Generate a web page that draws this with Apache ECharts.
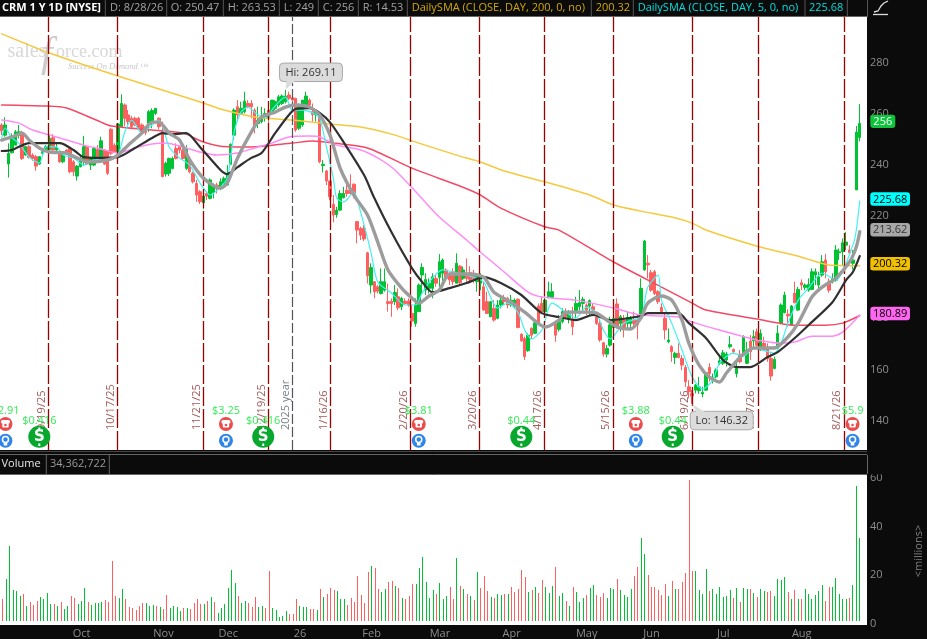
<!DOCTYPE html>
<html><head><meta charset="utf-8">
<style>html,body{margin:0;padding:0;background:#0b0b0b;overflow:hidden}#c{width:927px;height:639px}</style>
<script src="https://cdn.jsdelivr.net/npm/echarts@6/dist/echarts.min.js"></script>
</head><body><div id="c"></div>
<script>
// [open, close, low, high]
const candleRows=[
[255.4,253.1,251.4,256],[251.4,255.4,250.8,258.4],[240.1,244.3,234.8,248.2],[244.5,250.1,244.3,252.1],[247.5,252.7,247.5,253.4],[251.4,252.7,250.1,255.4],[252.4,242.3,241.7,253.1],[243.6,246.9,243.4,247.2],[246.9,242.7,242.3,247.5],[243.6,242.3,241.4,244.3],
[243,239.3,237.5,243.6],[240.1,243,239.7,243.2],[244.3,244.9,243.6,245.8],[245.6,246.9,244.9,247.5],[245.8,250.1,245.3,251.4],[250.4,245.6,245.3,251.8],[245.6,246.6,244.9,248.2],[244.3,241,240.6,244.9],[241,243.6,240.4,244.3],[245.6,244.3,243.6,245.8],
[246.2,237.1,236.5,246.6],[241,237.1,235.4,241.7],[235.4,239.3,233.6,239.7],[239.1,242.3,238.8,243],[241.4,246.9,239.7,251.1],[246.6,240.1,239.7,247.2],[239.7,242.3,237.8,243],[239.7,246.2,239.3,246.9],[245.8,242.3,241.4,247.5],[241,249.2,240.6,250.8],
[245.6,240.1,239.7,245.8],[245.3,236.5,235.8,245.6],[253.7,244.3,243.6,254.1],[247.5,244.9,244.5,248.2],[244.9,255.8,244.3,256],[254.7,263.8,254.7,267.4],[263.2,258,255,263.8],[259.3,256.7,255.4,261.2],[258,254.7,254.4,258.9],[258,255.4,255,258.6],
[258,254.4,254.1,258.6],[255.4,252.7,252.1,256],[254.7,252.4,251.4,255],[256,260.6,252.7,261.2],[256.7,261,254.1,261.9],[259.9,261.9,259.3,261.9],[258,254.7,253.7,258.4],[252.8,235.2,234.9,256.7],[236.2,240.4,235.2,241],[236.5,242.3,235.4,242.6],
[238.4,242.3,238,243],[246.2,242.3,241.9,248.2],[246.9,245.6,244.3,247.5],[245.6,242.3,241.7,246.2],[238.4,245.8,237.8,247.5],[242.3,237.1,236.5,243],[236.5,233.2,232.5,237.1],[232.5,228,225.4,233.9],[229.3,225.4,224.5,229.9],[225,227.6,222.4,228],
[228.6,227.6,226,229.3],[226.7,233.9,226.3,234.5],[228.9,231.2,226.7,232.5],[231.9,230.6,228.6,232.8],[230.6,233.2,229.9,234.5],[232.5,234.5,230.6,235.2],[231.9,235.8,231.9,239.7],[240,247.8,239.7,248.2],[251.4,261.2,249.5,261.9],[262.5,259.3,256.7,265.1],
[259.9,261.9,259.9,264.5],[260.6,264.7,259.9,268.4],[263.8,262.5,261.9,265.1],[263.8,262.5,258,265.1],[261.2,254.7,252.1,261.9],[256,257.3,254.1,262.5],[256.7,258,256,262.5],[258,259.9,256.7,261.9],[261.2,258,256,263.2],[260.6,265.1,259.9,265.1],
[261.9,264.5,261.2,265.1],[263.2,266.4,262.5,267.1],[263.8,266.7,263.2,267.3],[264.5,266.7,263.8,269.11],[267.1,265.8,265.1,268.4],[266,265.1,263.8,266.4],[265.8,253.4,252.7,266],[254.1,263.2,253.4,263.8],[255.4,265.1,254.7,265.1],[263.2,266.7,261.9,268.4],
[265.1,263.2,261.9,265.8],[260.6,259.5,256.7,263.8],[259.3,260.3,256.7,261.2],[259.3,241,240.4,259.9],[239.5,240,236.8,241.7],[237.4,233.5,231.9,237.8],[233.5,227.3,226,233.5],[224.3,220.2,217.3,228],[220.4,222.1,219.1,223.4],[222.1,228.6,221.7,229.9],
[226.9,228.6,226.7,231.2],[229.9,228.6,227.3,233.8],[229.9,228.6,228,236.1],[232.2,228,226.7,232.5],[217.6,214.3,209.1,217.8],[214.9,212.3,210.4,215.6],[214.9,210.8,210,216.2],[205.4,196.4,193.4,205.8],[192.8,199.6,189.5,201.3],[194.1,190.2,187.6,194.3],
[192.1,190.4,189.5,192.8],[189.5,194.1,189.1,199.3],[190.8,194.1,190.2,199.3],[186.3,185.6,182.4,193.4],[186.5,185.6,180.4,187.6],[186.3,189.9,185,192.8],[188.2,183.9,183,191.5],[184.3,187.6,183,188.2],[186.5,185.6,185,187.6],[186.5,185,184.3,187.6],
[181.7,178.7,176.5,185],[177.8,185,176.5,187.6],[182.4,192.8,182.4,193.4],[196.7,199.7,189.5,201.3],[190.8,195,188.9,197.4],[191.5,193.5,189.5,195.4],[191.5,196,187.6,197.4],[195.4,193.5,192.1,196.7],[195.8,201.9,192.1,204.9],[197.4,202.6,194.1,203.2],
[198.7,195.4,194.8,199.3],[196.7,194.8,192.8,198],[198,194.1,192.8,199.3],[193.5,201.3,193.5,205.2],[200.2,193.7,192.8,200.6],[195.4,198.7,194.8,200],[197.4,195.4,194.1,203.2],[197.6,195,194.1,200.2],[197.4,195.4,193.5,198.7],[194.1,196.7,190.2,197.4],
[193.5,196,190.8,197.4],[192.1,183,182.8,194.1],[186.3,181.7,181.5,190.2],[180.4,186.3,180.2,186.3],[183.7,179.1,178.5,186.9],[179.8,185,179.4,186.9],[185,186.9,183.7,188.9],[187.6,186.3,185,188.9],[187.6,185,183.7,188.2],[185,186.9,184.3,188.9],
[184.3,186.9,183.7,187.6],[187.2,176.2,175.9,187.6],[173.6,171,170.6,173.9],[171.9,164.8,163.5,172.6],[167.1,173.2,166.7,173.9],[175.9,173.2,171.6,176.2],[173.9,178,173.6,179.1],[184.6,177.8,177.2,185.6],[185.6,182.4,182,188.5],[182.4,186.9,182,189.5],
[188.2,190.2,187.6,194.1],[188,190.2,187.6,193.5],[177.8,173.2,170.6,178.5],[175.5,178.5,174.6,181.1],[178.5,182.4,177.8,183.7],[181.7,180.4,179.8,183.7],[179.8,181.5,177.8,183],[179.1,176.5,173.2,184.3],[182.4,185.6,179.8,188.2],[184.3,185.9,182.8,190.8],
[185.6,187.2,182.4,188.2],[185,183,181.1,185.6],[184.6,186.7,181.1,187.2],[184.3,183,181.1,185.6],[180.2,177.8,177.2,181.1],[177.8,171.3,170.6,179.1],[170.2,165.8,164.8,170.6],[165.8,168,164.5,169.3],[169.3,177.2,168.7,180.4],[176.2,179.8,175.5,181.1],
[185.4,176.5,175.9,187.6],[177.8,180.4,174.6,181.1],[179.1,176.2,172.3,181.1],[177.8,180.2,175.5,182.4],[177.8,179.8,175.5,180.7],[179.1,177.8,176.2,182.4],[179.1,177.2,171.6,181.1],[181,191.5,180.4,195.4],[198.7,210,198.4,210.4],[201.3,200.7,195.4,204.5],
[197.6,190.8,190.2,198.7],[198,189.5,188.9,198.7],[190.2,186.3,185.4,190.8],[184.1,182.4,181.7,185.6],[179.8,175.2,171.5,181.7],[170.6,171.3,170,175.8],[168.7,166.7,162.8,169.3],[164.5,166.1,161.9,166.7],[166.1,164.5,164.1,170],[164.1,161.5,159.5,165.4],
[160.6,155,153,161.5],[153,151.1,148.5,155.6],[150.4,149.4,146.32,151.7],[151.7,153.7,150.4,154.1],[151.5,153,150.2,156.9],[150.2,150.8,148.9,153],[151.7,158.5,151.5,158.9],[160.6,158.2,155,162.2],[155.9,156.7,154.3,158.2],[156.9,159.5,156.3,160.2],
[162.2,163.2,161.5,164.8],[162.2,166.3,161.5,167.4],[163.5,165.8,160.9,166.7],[168.7,169.5,168,172.8],[167.6,166.7,165.8,168],[158.2,160.2,156.7,163.5],[165.8,162.8,162.2,167.4],[166.3,172.6,165.8,173.2],[162.2,167.4,161.9,170.6],[170.9,166.7,163.5,173.2],
[171,172.6,168,175.2],[174.5,169.3,168.7,175.8],[167.4,173.9,167.1,175.5],[170,167.4,167.1,172.6],[168,164.1,162.8,170],[164.1,157.2,155.4,166.1],[160.2,163.7,159.8,164.8],[168,173.9,167.6,177.1],[177.8,185,177.5,185.6],[182,188.9,181.7,190.2],
[181.4,180.7,176.5,183.3],[177.1,184.6,176.8,185],[189.5,185.9,185.6,194.1],[183,191.1,182.8,192.1],[193.7,192.8,190.8,195],[191.9,192.8,190.8,193.4],[190.8,193,190.2,195.4],[191.1,198,190.8,199.3],[196.7,198,192.8,199.3],[192.8,196,191.5,198],
[196.7,201.9,196,204.5],[202.6,198,195.4,204.9],[194.1,190.8,189.8,195.4],[194.1,195.4,193.4,197.4],[194.7,206.5,194.1,208.4],[205.4,205.8,202.6,207.1],[205.8,209.3,200.6,211],[208.4,209.6,206.5,213.6],[206.5,205.4,204.5,208.4],[201.3,202.6,198.9,206.5],
[230,252.6,230,255],[250.47,256,249,263.53]
];
const volumes=[
9,17.3,30.9,12.7,12.5,10.4,11.2,6.4,8,6.8,
8.4,10,9.2,11.6,7.2,7.2,6.4,8,4.8,6,
10.4,9.6,7.2,8.4,13.7,8,6.8,7.6,7.6,8,
8.8,8,24.9,10.4,9.6,13.3,9.2,5.6,5.2,4.4,
6,7.6,7.6,6.4,6.8,6.4,5.6,4.8,10.8,5.2,
6,5.6,4,5.2,5.2,4.8,7.6,9.2,7.2,7.2,
8.4,10,8,3.2,5.2,7.2,13.7,20.9,15.7,10.4,
7.6,8.4,7.6,5.6,10,5.6,6,5.2,20.5,5.2,
4.4,1.6,2,4,2.8,2.8,9.2,6,5.6,5.6,
4.8,4.8,4.4,13.3,10,11.2,13.7,12.9,12.5,9.2,
9.2,6.8,9.6,8,18.5,10.8,7.6,20.1,22.9,21.7,
13.3,12.1,13.3,16.1,16.5,14.5,13.7,9.6,9.2,10.4,
15.3,15.3,21.7,26.5,16.1,9.6,12.9,11.2,15.7,9.2,
10.4,14.1,9.2,26.1,14.5,13.3,11.2,10.4,8.8,20.1,
13.7,18.5,12.5,10,9.6,11.2,10.8,11.2,11.2,14.1,
12.1,13.3,20.9,18.1,12.1,12.9,14.1,11.6,16.9,14.1,
11.6,14.5,22.5,10.4,11.6,8.4,6.4,14.1,12.1,8,
9.6,10.8,13.7,14.9,10.8,10,11.6,9.6,13.7,13.3,
17.3,12.9,10.8,10,13.3,18.5,22.5,34.1,27.7,18.9,
14.1,14.1,12.9,10.8,15.3,10.4,16.5,13.3,13.3,16.1,
19.7,58.2,20.5,20.5,12.9,11.2,21.3,12.5,13.3,11.2,
14.1,10,10.4,12.9,9.6,13.7,8,13.7,13.3,13.3,
11.6,10,13.3,12.5,12.1,12.5,10.4,17.3,16.9,18.1,
12.1,9.2,12.9,9.2,9.2,13.3,11.2,9.2,10.8,12.5,
14.9,8.4,14.1,14.1,17.7,11.2,9.2,9.2,9.6,14.9,
55.8,34.36];
const volumeDirs="rgggggrgrr"+"rggggrgrgg"+"rrgggrgggg"+"rrrrggrrrr"+"rrgggrgrrg"+"gggrgrrrrg"+"rgrggggggr"+"ggrrrggrrg"+"ggggrrrggg"+"rrgrgrrrgg"+"grrrrrrrgr"+"rggrrgrgrr"+"rggggggrgg"+"grrgrgrgrg"+"rrrgrggrgr"+"rrrrgrgrrg"+"ggrggrgrgg"+"grggrrrggg"+"rggggrrggr"+"rrrrrgrgrr"+"rrrggggrgg"+"ggggrgrggr"+"grggrrgggg"+"rgrgrggggg"+"grrgggggrg"+"gg";

const sma200=[[0,291],[14,283.5],[34,274.5],[59,264],[64,261.6],[74,258.5],[85,257.3],[96,255.8],[105,254.6],[114,251.8],[122,248.3],[134,243.2],[140,240.9],[147,237.4],[159,233.1],[172,228],[179,224.1],[187,221.7],[196,219.4],[202,217],[206,214.3],[221,208],[234,203.7],[242,200.6],[251,200.32]];
const sma100=[[0,263.2],[13,262.8],[19,262],[29,256.5],[32,255],[44,253.4],[53,252.2],[59,248.7],[64,247.1],[73,246.8],[85,248.3],[91,249.1],[97,248.3],[107,246.4],[120,238.5],[134,231.5],[140,228],[146,222.9],[159,215.5],[163,214.3],[179,201.8],[193,192],[202,185.7],[206,183],[221,179.5],[232,177.1],[241,177.1],[246,177.9],[251,180.89]];
const sma50=[[0,257.3],[5,256.1],[9,253.4],[14,251.5],[19,249.5],[24,247.5],[29,246],[34,244.4],[39,246.4],[44,247.9],[48,248.3],[53,246.8],[58,244.8],[63,243.6],[69,244.4],[74,246.4],[79,248.3],[84,250.7],[90,251.1],[93,250.7],[98,247.5],[105,245.6],[110,242.5],[115,237.8],[122,228],[128,219.4],[136,210.4],[140,205.7],[147,197.9],[154,190],[158,188.1],[168,186.9],[179,183.8],[187,181.1],[198,180.3],[202,178.3],[210,175.2],[221,171.3],[228,170.1],[232,170.5],[237,172.8],[243,172.8],[246,174.4],[251,181]];
const sma20=[[0,245.2],[3,245.6],[8,248.3],[12,248.3],[17,248.3],[21,245.6],[24,242.8],[28,242.5],[34,242.8],[39,246.4],[44,250.3],[47,252.2],[50,251.8],[54,252.2],[58,246.8],[64,237.8],[66,236.2],[69,238.9],[73,242.5],[76,244.4],[80,252.2],[84,259.3],[86,261.6],[90,262],[93,260.1],[96,256.5],[100,248.7],[106,235.8],[109,226.8],[114,213.5],[120,199.4],[123,194],[126,190],[131,191.6],[136,193.6],[141,195.9],[146,193.6],[152,188.9],[158,181.8],[163,180.3],[168,179.1],[173,181.1],[178,179.1],[187,180.7],[189,181.8],[198,181.8],[201,177.9],[206,172.1],[211,163.5],[215,160.7],[219,160.7],[224,164.6],[227,166.6],[232,172.1],[236,177.1],[243,186.1],[247,194.7],[249,197.9],[251,204.1]];
const sma10=[[0,249.5],[3,250.7],[6,252.2],[8,249.5],[11,246.4],[14,244.8],[19,244.4],[22,242.5],[25,240.9],[31,241.7],[34,243.6],[37,247.5],[41,252.2],[44,256.5],[46,256.5],[49,252.2],[52,249.5],[55,241.7],[59,234.6],[64,230.7],[66,232.7],[69,242.5],[73,252.6],[76,258.5],[80,260.4],[83,262.4],[86,263.2],[90,262.4],[93,259.3],[96,251.5],[99,238.5],[103,228],[107,220.2],[110,209.6],[113,198.7],[117,191.6],[120,187.7],[122,185.7],[125,188.5],[128,190.8],[131,197.1],[137,197.1],[141,195.9],[144,190],[149,186.1],[153,182.2],[159,176.4],[163,179.1],[165,182.2],[171,182.2],[174,181.8],[180,176.4],[184,175.6],[187,179.9],[189,185.7],[193,188.5],[196,186.9],[199,179.1],[201,170.1],[204,161.5],[207,156.8],[210,154.9],[212,158.4],[216,164.6],[220,168.2],[226,168.2],[230,172.5],[233,177.9],[237,188.1],[240,192],[244,195.5],[248,201.8],[250,207.7],[251,213.62]];
const sma5=[[0,250.3],[1,254.2],[3,250.3],[5,248.3],[8,242.8],[11,240.5],[13,246.8],[16,246.8],[18,243.6],[21,242.5],[24,239.7],[27,241.7],[31,241.7],[34,243.6],[36,252.6],[38,257.3],[41,252.2],[43,254.2],[46,257.3],[49,246.8],[52,242.5],[55,239.7],[58,232.7],[61,228],[64,231.1],[66,234.6],[67,242.5],[68,252.6],[70,260.4],[72,262.4],[75,259.3],[78,258.1],[79,261.2],[83,266.3],[85,261.2],[88,261.2],[91,260.1],[93,258.1],[95,246.8],[97,234.6],[98,226.8],[100,225.2],[103,229.2],[105,221.3],[108,205.7],[110,194],[114,189.7],[118,185],[121,185],[123,189.7],[126,195.5],[129,198.7],[132,197.9],[137,196.3],[141,194],[143,188.1],[145,183.8],[148,185.7],[151,182.2],[153,175.2],[155,171.7],[158,175.2],[160,183.8],[161,185.7],[165,182.2],[168,179.9],[171,184.2],[174,181.8],[176,175.2],[178,171.7],[182,177.9],[187,180.3],[188,185.7],[189,192],[192,196.7],[193,186.9],[196,177.9],[199,167.4],[202,156.8],[205,152.1],[208,155.6],[210,162.3],[214,166.2],[217,165],[220,168.2],[226,166.2],[228,170.1],[230,177.9],[233,186.9],[236,191.6],[240,197.5],[244,194.7],[249,208.4],[250,214.3],[251,225.68]];

const priceTicks=[140,160,180,200,220,240,260,280];
const volumeTicks=[0,20,40,60];
const monthNames=['Oct','Nov','Dec','26','Feb','Mar','Apr','May','Jun','Jul','Aug'];
const monthBars=[23,47,66,87,108,128,149,171,190,211,234];
const eventBars=[13.7,33.9,59.1,78.1,96.2,119.6,139.8,158.8,178.9,202,221.3,246.5];
const eventDates=['9/19/25','10/17/25','11/21/25','12/19/25','1/16/26','2/20/26','3/20/26','4/17/26','5/15/26','6/19/26','7/17/26','8/21/26'];
const yearBar=85.1, yearText='2025 year';
const earningsBars=[1.1,65.6,122,185.5,248.9];
const earningsTexts=['$2.91','$3.25','$3.81','$3.88','$5.9'];
const dividendBars=[11,76.5,152,196.3];
const dividendTexts=['$0.416','$0.416','$0.44','$0.44'];
const callouts=[[83,269.11,'Hi: 269.11'],[202,146.32,'Lo: 146.32']];
const priceTags=[[256,'256'],[225.68,'225.68'],[213.62,'213.62'],[200.32,'200.32'],[180.89,'180.89']];
const headerTexts=['CRM 1 Y 1D [NYSE]','D: 8/28/26','O: 250.47','H: 263.53','L: 249','C: 256','R: 14.53','DailySMA (CLOSE, DAY, 200, 0, no)','200.32','DailySMA (CLOSE, DAY, 5, 0, no)','225.68'];

const FONT='"Open Sans"';
const UP='#00c232',DOWN='#ff5f5f';
const slot=3.42, SLOTS=254, gridLeft=-0.4, gridW=SLOTS*slot;
const categories=Array.from({length:SLOTS},(_,i)=>{const k=monthBars.indexOf(i);return k>=0?monthNames[k]:'';});

const hdrX=[2,110,170.7,227.7,283.7,322.7,362.7,411.7,595.7,637.7,809];
const hdrC=['#fff','#a3a3a3','#a3a3a3','#a3a3a3','#a3a3a3','#a3a3a3','#a3a3a3','#d2a800','#d2a800','#00dede','#00dede'];
const hdrSep=[105.3,166.7,223.3,279.3,318.3,358.3,407.3,591.3,633.3,805,847.3];
const g=[];
g.push({type:'rect',z:-10,shape:{x:0,y:17,width:867,height:433},style:{fill:'#fff'}});
g.push({type:'rect',z:-10,shape:{x:0,y:475,width:867,height:150},style:{fill:'#fff'}});
headerTexts.forEach((t,i)=>g.push({type:'text',x:hdrX[i],y:7.5,style:{text:t,fill:hdrC[i],font:(i===0?'bold ':'')+'11px '+FONT,verticalAlign:'middle'}}));
hdrSep.forEach(x=>g.push({type:'line',shape:{x1:x,y1:0,x2:x,y2:16},style:{stroke:'#555',lineWidth:1}}));
g.push({type:'line',shape:{x1:867.5,y1:0,x2:867.5,y2:17},style:{stroke:'#555',lineWidth:1}});
g.push({type:'line',shape:{x1:0,y1:16.5,x2:867,y2:16.5},style:{stroke:'#666',lineWidth:1}});
g.push({type:'polyline',shape:{points:[[874,12],[878,11],[881,6],[884,3],[888,1]]},style:{stroke:'#ddd',lineWidth:1.3,fill:null}});
g.push({type:'line',shape:{x1:873,y1:14.5,x2:888,y2:14.5},style:{stroke:'#ddd',lineWidth:1.3}});
// volume header
g.push({type:'line',shape:{x1:0,y1:451.5,x2:867,y2:451.5},style:{stroke:'#444',lineWidth:1}});
g.push({type:'line',shape:{x1:0,y1:454.5,x2:867,y2:454.5},style:{stroke:'#666',lineWidth:1}});
g.push({type:'line',shape:{x1:0,y1:474.5,x2:867,y2:474.5},style:{stroke:'#666',lineWidth:1}});
[46.3,109.3,867.5].forEach(x=>g.push({type:'line',shape:{x1:x,y1:455,x2:x,y2:474},style:{stroke:'#666',lineWidth:1}}));
g.push({type:'text',x:1.5,y:464,style:{text:'Volume',fill:'#e6e6e6',font:'11px '+FONT,verticalAlign:'middle'}});
g.push({type:'text',x:50,y:464,style:{text:'34,362,722',fill:'#999',font:'11px '+FONT,verticalAlign:'middle'}});
g.push({type:'text',x:919,y:551,rotation:Math.PI/2,style:{text:'<millions>',fill:'#7e7e7e',font:'11px '+FONT,align:'center',verticalAlign:'middle'}});
// clipped axis label ends
g.push({type:'rect',z:100,shape:{x:868.5,y:455,width:58.5,height:19.5},style:{fill:'#0b0b0b'}});
g.push({type:'rect',z:100,shape:{x:868.5,y:627,width:58.5,height:12},style:{fill:'#0b0b0b'}});
// watermark
g.push({type:'text',x:7.5,y:52,style:{text:'sales',fill:'#d8d8d8',font:'20px "Liberation Serif"',verticalAlign:'middle'}});
g.push({type:'text',x:41,y:55,style:{text:'f',fill:'#cccccc',font:'italic 42px "Liberation Serif"',verticalAlign:'middle'}});
g.push({type:'text',x:56,y:52,style:{text:'orce.com',fill:'#d8d8d8',font:'18px "Liberation Serif"',verticalAlign:'middle'}});
g.push({type:'text',x:68,y:67,style:{text:'Success On Demand.™',fill:'#c8c8c8',font:'italic 8.5px "Liberation Serif"',verticalAlign:'middle'}});

function lineSeries(name,data,color,width,z){
  return {name,type:'line',data,xAxisIndex:1,yAxisIndex:0,showSymbol:false,smooth:0.25,z,silent:true,clip:true,
    lineStyle:{color,width,cap:'round',join:'round'}};
}
function axisLabelSeries(name,ticks,xAxisIndex,yAxisIndex,shift){
  return {name,type:'custom',xAxisIndex,yAxisIndex,z:1,silent:true,clip:false,
    data:ticks.map(t=>[0,t]),
    renderItem(p,api){const y=api.coord([0,api.value(1)])[1];
      return {type:'text',x:870,y:y+shift,style:{text:String(api.value(1)),fill:'#8d8d8d',font:'11px '+FONT,align:'left',verticalAlign:'middle'}};}};
}
const botOff=(p)=>p.coordSys.y+p.coordSys.height;
const LABEL='#33ec55';
const series=[
 axisLabelSeries('PriceTicks',priceTicks,1,0,0.5),
 axisLabelSeries('VolumeTicks',volumeTicks,2,1,2.5),
 {name:'Price',type:'candlestick',data:candleRows,xAxisIndex:0,yAxisIndex:0,barWidth:3,z:2,silent:true,clip:false,
  itemStyle:{color:UP,color0:DOWN,borderColor:UP,borderColor0:DOWN,borderWidth:1}},
 lineSeries('SMA200',sma200,'#f5c93f',1.5,3),
 lineSeries('SMA100',sma100,'#f24a66',1.5,3),
 lineSeries('SMA50',sma50,'#ff8cf5',1.5,3),
 lineSeries('SMA5',sma5,'#3ff3f0',1.2,4),
 lineSeries('SMA20',sma20,'#303030',2.2,5),
 lineSeries('SMA10',sma10,'#9c9c9c',3.4,6),
 {name:'Volume',type:'custom',xAxisIndex:2,yAxisIndex:1,silent:true,clip:true,encode:{x:0,y:1},
  data:volumes.map((v,i)=>[i,v]),
  renderItem(p,api){const i=api.value(0),top=api.coord([i,api.value(1)]),bot=api.coord([i,0]);
    const x=Math.round(top[0]-0.5),y=Math.round(top[1]);
    return {type:'rect',shape:{x,y,width:1,height:Math.round(bot[1])-y},style:{fill:volumeDirs[i]==='g'?UP:DOWN}};}},
 {name:'Events',type:'line',xAxisIndex:1,yAxisIndex:0,data:[],silent:true,z:1,
  markLine:{silent:true,symbol:'none',animation:false,label:{show:false},
   data:eventBars.map(x=>({xAxis:x,lineStyle:{color:'#990000',width:1.3,type:[19,3]}})).concat([{xAxis:yearBar,lineStyle:{color:'#555',width:1.2,type:[10,3]}}])}},
 {name:'EventLabels',type:'custom',xAxisIndex:1,yAxisIndex:0,z:7,silent:true,clip:false,
  data:eventBars.map((x,i)=>[x,i]).concat([[yearBar,-1]]),
  renderItem(p,api){const pt=api.coord([api.value(0),140]);const i=api.value(1);
    const isY=i<0;
    return {type:'text',x:pt[0]-7,y:botOff(p)-20,rotation:Math.PI/2,
      style:{text:isY?yearText:eventDates[i],fill:isY?'#777f88':'#a25a5a',font:'11px '+FONT,align:'left',verticalAlign:'middle'}};}},
 {name:'Earnings',type:'custom',xAxisIndex:1,yAxisIndex:0,z:8,silent:true,clip:false,
  data:earningsBars.map((x,i)=>[x,i]),
  renderItem(p,api){const x=api.coord([api.value(0),140])[0],b=botOff(p),t=earningsTexts[api.value(1)];
    const py=b-26,by=b-9.3;
    return {type:'group',children:[
     {type:'circle',shape:{cx:x,cy:py,r:7},style:{fill:'#ec4b4b'}},
     {type:'rect',shape:{x:x-4.5,y:py-4,width:9,height:3.4,r:1.5},style:{fill:'#fff'}},
     {type:'rect',shape:{x:x-3.2,y:py-1.5,width:6.4,height:5,r:1},style:{fill:'#fff'}},
     {type:'circle',shape:{cx:x,cy:py+1,r:1.3},style:{fill:'#ec4b4b'}},
     {type:'circle',shape:{cx:x,cy:by,r:7},style:{fill:'#2f86e8'}},
     {type:'circle',shape:{cx:x,cy:by-1.3,r:3},style:{fill:'none',stroke:'#fff',lineWidth:1.5}},
     {type:'rect',shape:{x:x-1.8,y:by+1.8,width:3.6,height:3,r:0.6},style:{fill:'#fff'}},
     {type:'text',x:x,y:b-39,style:{text:t,fill:LABEL,font:'11px '+FONT,align:'center',verticalAlign:'middle'}}
    ]};}},
 {name:'Dividends',type:'custom',xAxisIndex:1,yAxisIndex:0,z:8,silent:true,clip:false,
  data:dividendBars.map((x,i)=>[x,i]),
  renderItem(p,api){const x=api.coord([api.value(0),140])[0],b=botOff(p),t=dividendTexts[api.value(1)],c=b-13.3;
    return {type:'group',children:[
     {type:'circle',shape:{cx:x,cy:c,r:11},style:{fill:'#08a82e'}},
     {type:'text',x:x,y:c+0.5,style:{text:'S',fill:'#fff',font:'bold 15px "DejaVu Sans"',align:'center',verticalAlign:'middle'}},
     {type:'rect',shape:{x:x-1,y:c-9.3,width:2,height:2.5},style:{fill:'#fff'}},
     {type:'rect',shape:{x:x-1,y:c+6.8,width:2,height:2.5},style:{fill:'#fff'}},
     {type:'text',x:x,y:b-29.3,style:{text:t,fill:LABEL,font:'11px '+FONT,align:'center',verticalAlign:'middle'}}
    ]};}},
 {name:'Callouts',type:'custom',xAxisIndex:1,yAxisIndex:0,z:9,silent:true,clip:false,
  data:callouts.map((c,i)=>[c[0],c[1],i]),
  renderItem(p,api){const pt=api.coord([api.value(0),api.value(1)]),i=api.value(2),hi=i===0;
    const w=63,h=18.5,bx=pt[0]+(hi?-6:-2),by=hi?pt[1]-26.8:pt[1]+7.4;
    const bEdge=hi?by+h:by, tx=hi?bx+7:bx+6;
    return {type:'group',children:[
     {type:'rect',shape:{x:bx,y:by,width:w,height:h,r:4},style:{fill:'#dcdcdc',stroke:'#a8a8a8',lineWidth:1}},
     {type:'polygon',shape:{points:[[pt[0],pt[1]],[tx,bEdge+(hi?-1:1)],[tx+9,bEdge+(hi?-1:1)]]},style:{fill:'#dcdcdc'}},
     {type:'text',x:bx+w/2,y:by+h/2+0.5,style:{text:callouts[i][2],fill:'#333',font:'11px '+FONT,align:'center',verticalAlign:'middle'}}
    ]};}},
 {name:'Tags',type:'custom',xAxisIndex:1,yAxisIndex:0,z:10,silent:true,clip:false,
  data:priceTags.map((c,i)=>[252,c[0],i]),
  renderItem(p,api){const y=api.coord([0,api.value(1)])[1]-2,i=api.value(2);
    const bgs=['#0fc43c','#00ffff','#a8a8a8','#f0c000','#ff66f0'];
    const fgs=['#fff','#000','#333','#000','#000'];
    const t=priceTags[i][1],w=t.length>3?39.7:25;
    return {type:'group',children:[
     {type:'rect',shape:{x:870.3,y:y-6.7,width:w,height:13.4,r:3},style:{fill:bgs[i]}},
     {type:'text',x:870.3+w/2,y:y+0.5,style:{text:t,fill:fgs[i],font:'11px '+FONT,align:'center',verticalAlign:'middle'}}
    ]};}}
];

const chart=echarts.init(document.getElementById('c'),null,{renderer:'canvas'});
chart.setOption({
 animation:false,backgroundColor:'#0b0b0b',
 graphic:{elements:g},
 grid:[{left:gridLeft,top:17,width:gridW,height:433,containLabel:false},
       {left:gridLeft,top:475,width:gridW,height:150,containLabel:false}],
 xAxis:[
  {type:'category',gridIndex:0,data:categories,show:false,boundaryGap:true},
  {type:'value',gridIndex:0,min:-0.5,max:SLOTS-0.5,show:false,splitLine:{show:false}},
  {type:'category',gridIndex:1,data:categories,boundaryGap:true,axisLine:{show:false},axisTick:{show:false},splitLine:{show:false},
   axisLabel:{interval:0,color:'#8d8d8d',fontFamily:FONT,fontSize:11,margin:7,hideOverlap:false}}
 ],
 yAxis:[
  {type:'value',gridIndex:0,position:'right',min:128.3,max:297.6,splitLine:{show:false},axisLine:{show:false},axisTick:{show:false},axisLabel:{show:false}},
  {type:'value',gridIndex:1,position:'right',min:0,max:60.3,splitLine:{show:false},axisLine:{show:false},axisTick:{show:false},axisLabel:{show:false}}
 ],
 tooltip:{show:false},legend:{show:false},
 series
});
</script></body></html>
